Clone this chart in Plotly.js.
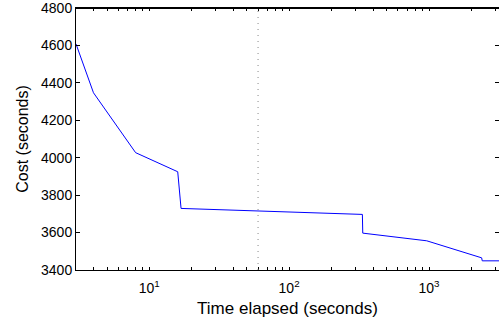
<!DOCTYPE html>
<html>
<head>
<meta charset="utf-8">
<script src="https://cdn.plot.ly/plotly-3.0.1.min.js"></script>
<style>html,body{margin:0;padding:0;background:#fff;}#chart{width:499px;height:324px;}</style>
</head>
<body>
<div id="chart"></div>
<script>
const timeSec = [3, 4, 8, 16, 16.9, 334, 336, 618, 963, 2377, 2400, 3200];
const costSec = [4608, 4347, 4027, 3925, 3729, 3697, 3597, 3574, 3556, 3465, 3449, 3449];
const markerTime = 60;
const yTicks = [3400, 3600, 3800, 4000, 4200, 4400, 4600, 4800];
const decades = [10, 100, 1000];
const decadeLabels = ['10<sup>1</sup>', '10<sup>2</sup>', '10<sup>3</sup>'];

const xTickVals = [];
const xTickText = [];
[1, 10, 100, 1000].forEach(function (d) {
  for (let m = 1; m <= 9; m++) {
    const v = d * m;
    if (v < 3 || v > 3200) continue;
    xTickVals.push(v);
    const idx = decades.indexOf(v);
    xTickText.push(idx >= 0 ? decadeLabels[idx] : '');
  }
});

const font = {family: 'Liberation Sans, Arial, Helvetica, sans-serif', color: '#000'};

Plotly.newPlot('chart', [{
  x: timeSec, y: costSec, type: 'scatter', mode: 'lines',
  line: {color: '#0000ff', width: 1}, hoverinfo: 'skip', showlegend: false
}], {
  width: 499, height: 324,
  margin: {l: 76, r: 0, t: 8, b: 54, pad: 0},
  paper_bgcolor: '#fff', plot_bgcolor: '#fff',
  font: Object.assign({size: 14}, font),
  xaxis: {
    type: 'log', range: [Math.log10(3), 3.5],
    tickvals: xTickVals, ticktext: xTickText,
    ticks: 'inside', ticklen: 3, tickcolor: '#000', tickwidth: 1,
    showline: true, linecolor: '#000', linewidth: 1, mirror: 'allticks',
    showgrid: false, zeroline: false, ticklabeloverflow: 'allow',
    ticklabelstandoff: 5,
    tickfont: Object.assign({size: 14}, font),
    title: {text: 'Time elapsed (seconds)', font: Object.assign({size: 17}, font), standoff: 7}
  },
  yaxis: {
    range: [3400, 4800], tickvals: yTicks,
    ticks: 'inside', ticklen: 4, tickcolor: '#000', tickwidth: 1,
    showline: true, linecolor: '#000', linewidth: 1, mirror: 'allticks',
    showgrid: false, zeroline: false, ticklabeloverflow: 'allow',
    tickfont: Object.assign({size: 14}, font),
    title: {text: 'Cost (seconds)', font: Object.assign({size: 16}, font), standoff: 8}
  },
  shapes: [{
    type: 'line', xref: 'x', yref: 'paper', x0: markerTime, x1: markerTime, y0: 0, y1: 1,
    line: {color: '#888', width: 1, dash: '1px,5px'}
  }, {
    type: 'line', xref: 'paper', yref: 'paper', ysizemode: 'pixel', yanchor: 1,
    x0: 0, x1: 1, y0: -0.5, y1: -0.5,
    layer: 'above', line: {color: '#000', width: 1}
  }]
}, {staticPlot: true, displayModeBar: false});
</script>
</body>
</html>
